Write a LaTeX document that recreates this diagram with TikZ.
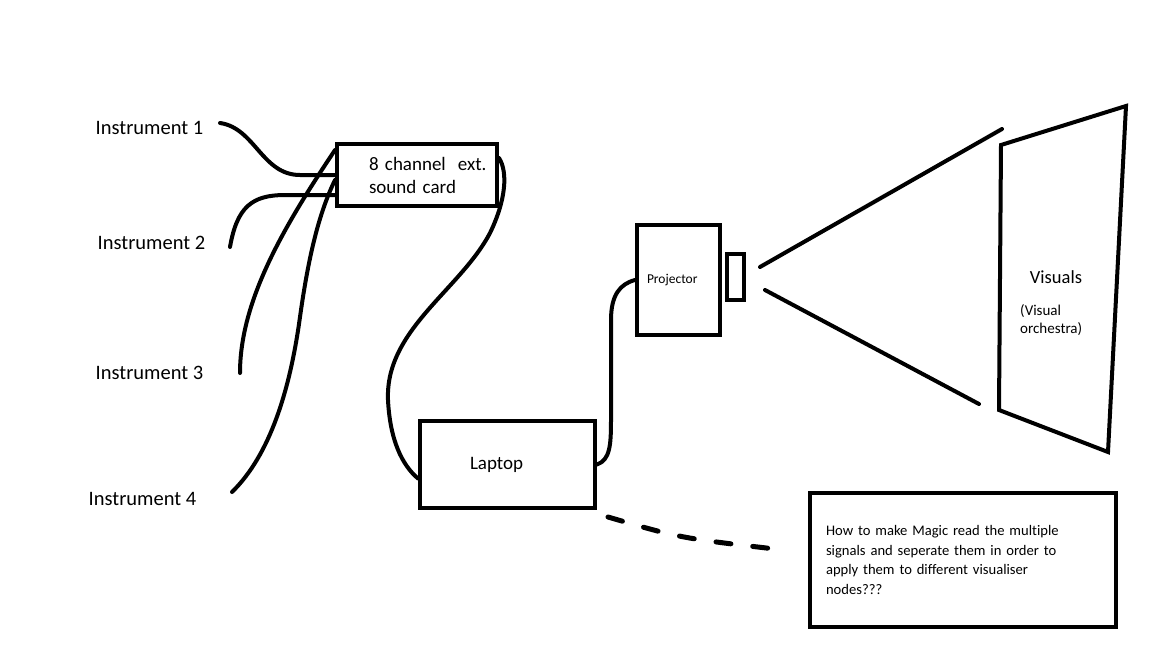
\documentclass[tikz,border=0pt]{standalone}
\usepackage{fontspec}
\setmainfont{Carlito}[Ligatures=NoCommon]
\usetikzlibrary{positioning, calc}
\tikzset{
    box/.style = {rectangle, draw, line width=4pt, inner sep=0pt, align=left},
    cable/.style = {line width=4pt, line cap=round},
    beam/.style = {line width=4pt, line cap=round},
    biglabel/.style = {font=\fontsize{20.5}{24}\selectfont},
    midlabel/.style = {font=\fontsize{19}{23}\selectfont},
    smalllabel/.style = {font=\fontsize{14.6}{19.7}\selectfont}
}

\begin{document}
\begin{tikzpicture}[x=1pt, y=-1pt]
        \useasboundingbox (0,0) rectangle (1152,648);

        % Nodes
        \node [biglabel] (ins1) at (149.5,128) {Instrument 1};
        \node [biglabel] (ins2) at (151.5,243) {Instrument 2};
        \node [biglabel] (ins3) at (149.5,373) {Instrument 3};
        \node [biglabel] (ins4) at (142.5,499) {Instrument 4};
        \node [box, midlabel, minimum width=160pt, minimum height=62pt, text width=96pt] (card) at (417,175) {\mbox{8 channel\hspace{12pt}ext.}\\sound card};
        \node [box, midlabel, minimum width=175pt, minimum height=87pt, text width=75pt] (laptop) at (507.5,464.5) {Laptop};
        \node [box, font=\fontsize{13.5}{16}\selectfont, minimum width=83pt, minimum height=110pt, text width=63pt] (proj) at (678.5,280) {Projector};
        \node [box, minimum width=17pt, minimum height=46pt] (lens) at (735.5,277) {};
        \node [box, smalllabel, minimum width=306pt, minimum height=134pt, text width=274pt] (note) at (963,560) {How to make Magic read the multiple\\signals and seperate them in order to\\apply them to different visualiser\\nodes???};

        % Screen
        \coordinate (scrtl) at (1001,145);
        \coordinate (scrtr) at (1126,106);
        \coordinate (scrbr) at (1108,452);
        \coordinate (scrbl) at (999,410);
        \draw [line width=4pt] (scrtl) -- (scrtr) -- (scrbr) -- (scrbl) -- cycle;
        \node [font=\fontsize{18.5}{22}\selectfont] (vis) at (1056,277) {Visuals};
        \node [font=\fontsize{15}{18}\selectfont, align=left, anchor=north west, inner sep=0pt] (orch) at (1020,304) {(Visual\\orchestra)};

        % Free ends
        \coordinate (c1) at (220,123);
        \coordinate (c2) at (230,247);
        \coordinate (c3) at (240,373);
        \coordinate (c4) at (232,492);
        \coordinate (beamtop) at (1002,129);
        \coordinate (beambot) at (979,404);
        \coordinate (dashstart) at (608,517);
        \coordinate (dashend) at (775,549);

        % Edges
        \draw [cable] (c1) .. controls (255,128) and (262,175) .. (300,175) -- (card.west);
        \draw [cable] (c2) .. controls (237,207) and (252,195) .. (285,195) -- ($(card.west)+(0,20)$);
        \draw [cable] (c3) .. controls (240,300) and (285,225) .. ($(card.north west)+(0,8)$);
        \draw [cable] (c4) .. controls (270,455) and (290,390) .. (300,317) .. controls (308,260) and (318,215) .. ($(card.west)+(0,5)$);
        \draw [cable] ($(card.east)+(0,-17)$) .. controls (508,172) and (506,200) .. (490,233) .. controls (460,290) and (385,330) .. (388,400) .. controls (390,440) and (402,465) .. ($(laptop.west)+(0,14)$);
        \draw [cable] (laptop.east) .. controls (610,460) and (611,445) .. (611,420) -- (611,320) .. controls (611,295) and (620,284) .. (proj.west);
        \draw [beam] ($(lens.east)+(14,-10)$) -- (beamtop);
        \draw [beam] ($(lens.east)+(19,13)$) -- (beambot);
        \draw [line width=5pt, dash pattern=on 15pt off 22pt, line cap=round] (dashstart) .. controls (680,538) .. (dashend);

\end{tikzpicture}
\end{document}
